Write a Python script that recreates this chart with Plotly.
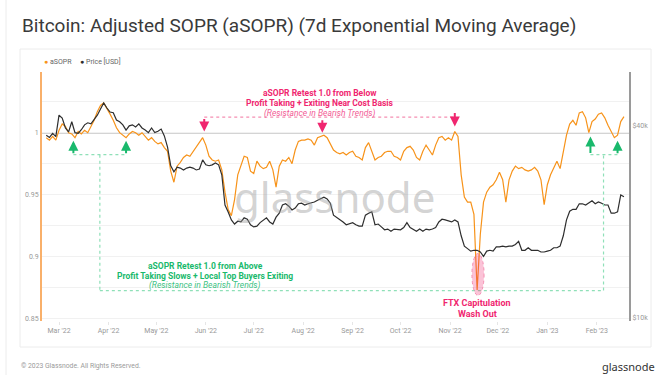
import pandas as pd
import plotly.graph_objects as go

# ---------------- data (2-day sampling) ----------------
start_date = "2022-02-21"

asopr = [
    0.996, 0.994, 0.997, 0.994, 1.002, 1.007, 1.005, 1.000, 0.999, 0.996,
    1.001, 0.999, 1.002, 1.000, 1.005, 1.010, 1.017, 1.022, 1.024, 1.020,
    1.015, 1.010, 1.004, 1.000, 0.998, 0.996, 0.999, 1.001, 1.000, 0.998,
    1.000, 0.997, 0.994, 0.996, 0.993, 0.991, 0.992, 0.988, 0.985, 0.969,
    0.960, 0.973, 0.976, 0.980, 0.982, 0.981, 0.985, 0.988, 0.992, 0.996,
    0.990, 0.981, 0.978, 0.977, 0.978, 0.970, 0.952, 0.938, 0.933, 0.946,
    0.966, 0.974, 0.981, 0.980, 0.969, 0.967, 0.977, 0.973, 0.971, 0.972,
    0.977, 0.970, 0.956, 0.973, 0.978, 0.977, 0.980, 0.975, 0.986, 0.993,
    0.994, 0.994, 0.995, 0.994, 0.990, 0.996, 0.997, 0.998, 0.996, 0.991,
    0.986, 0.984, 0.983, 0.984, 0.982, 0.984, 0.985, 0.981, 0.980, 0.978,
    0.988, 0.992, 0.985, 0.978, 0.980, 0.981, 0.984, 0.985, 0.985, 0.981,
    0.980, 0.978, 0.985, 0.988, 0.989, 0.986, 0.980, 0.978, 0.985, 0.990,
    0.986, 0.982, 0.990, 0.996, 0.997, 0.994, 0.996, 0.994, 1.001, 0.997,
    0.966, 0.948, 0.944, 0.944, 0.934, 0.873, 0.918, 0.944, 0.952, 0.956,
    0.958, 0.962, 0.968, 0.962, 0.944, 0.962, 0.969, 0.973, 0.971, 0.972,
    0.970, 0.969, 0.970, 0.972, 0.969, 0.962, 0.942, 0.958, 0.966, 0.972,
    0.977, 0.971, 0.985, 0.998, 1.007, 1.010, 1.006, 1.016, 1.017, 1.012,
    1.000, 1.009, 1.011, 1.015, 1.016, 1.012, 1.006, 1.001, 0.996, 0.998,
    1.009, 1.013,
]

price_k = [
    37.4, 36.8, 37.9, 37.0, 43.2, 42.3, 39.4, 38.3, 41.2, 38.1,
    37.9, 38.9, 40.3, 40.9, 40.6, 41.8, 43.2, 45.2, 47.2, 45.5,
    44.2, 44.0, 41.7, 41.2, 40.3, 38.8, 40.0, 40.3, 39.7, 40.6,
    39.4, 38.8, 38.1, 39.4, 38.1, 38.5, 39.1, 37.2, 34.3, 30.0,
    28.7, 29.7, 29.5, 29.1, 29.5, 29.7, 29.5, 29.1, 29.3, 31.3,
    30.2, 30.0, 30.2, 30.6, 30.2, 28.1, 22.6, 21.5, 20.3, 19.7,
    20.1, 20.0, 20.6, 20.4, 19.6, 19.3, 19.4, 19.9, 20.3, 20.6,
    20.0, 19.7, 20.7, 21.3, 22.6, 22.8, 22.4, 21.8, 22.1, 22.8,
    22.9, 22.6, 22.8, 22.9, 23.1, 23.4, 23.6, 23.9, 23.6, 22.9,
    21.0, 20.7, 20.3, 20.0, 19.6, 19.7, 19.9, 19.6, 19.4, 19.4,
    21.0, 21.3, 21.5, 19.6, 19.7, 19.3, 18.9, 19.0, 18.7, 19.0,
    18.9, 18.9, 19.2, 19.9, 19.2, 18.9, 18.7, 19.0, 18.7, 19.0,
    18.9, 19.0, 19.2, 20.0, 20.4, 20.3, 20.1, 20.0, 20.3, 20.0,
    18.1, 16.8, 16.5, 16.2, 16.3, 16.3, 16.1, 15.6, 16.2, 16.3,
    16.2, 16.7, 16.7, 16.8, 16.7, 16.8, 16.8, 17.0, 17.4, 16.3,
    16.3, 16.6, 16.3, 16.3, 16.3, 16.1, 16.1, 16.2, 16.3, 16.6,
    16.6, 16.8, 18.1, 20.3, 21.6, 21.9, 21.9, 22.8, 22.8, 22.6,
    22.9, 23.3, 22.8, 23.1, 22.9, 22.6, 22.6, 21.3, 21.3, 21.5,
    24.3, 24.0,
]

left_tick_vals = [0.85, 0.9, 0.95, 1.0]
left_tick_text = ["0.85", "0.9", "0.95", "1"]
right_tick_vals = [10000, 40000]
right_tick_text = ["$10k", "$40k"]

dates = pd.date_range(start_date, periods=len(asopr), freq="2D")
price_usd = [p * 1000 for p in price_k]

ORANGE = "#f7931a"
PINK = "#f0266f"
GREEN = "#19b96c"
GREEN_LIGHT = "#8fe0b8"
FONT = "Roboto"

# plot area in pixels: x 42..629, y 72..321
PL, PW, PB, PH = 42, 587, 321, 249


def px(xp):
    return (xp - PL) / PW


def py(yp):
    return (PB - yp) / PH


fig = go.Figure()
fig.add_trace(go.Scatter(x=dates, y=price_usd, yaxis="y2", mode="lines",
                         line=dict(color="#2e2e2e", width=1.2), name="Price [USD]",
                         showlegend=False, hoverinfo="skip"))
fig.add_trace(go.Scatter(x=dates, y=asopr, mode="lines",
                         line=dict(color=ORANGE, width=1.2), name="aSOPR",
                         showlegend=False, hoverinfo="skip"))

shapes = []
shapes.append(dict(type="line", xref="paper", x0=0, x1=1, yref="y", y0=1, y1=1,
                   line=dict(color="#555555", width=1.3), layer="between"))
shapes.append(dict(type="line", xref="x", yref="y", x0="2022-05-31", x1="2022-11-04",
                   y0=1.0125, y1=1.0125, line=dict(color="#f58fb2", width=1.2, dash="dot")))
g = dict(color=GREEN_LIGHT, width=1.2, dash="dot")
shapes.append(dict(type="line", xref="x", yref="y", x0="2022-03-10", x1="2022-04-12",
                   y0=0.9823, y1=0.9823, line=g))
shapes.append(dict(type="line", xref="x", yref="y", x0="2022-03-26 14:00", x1="2022-03-26 14:00",
                   y0=0.9823, y1=0.8726, line=g))
shapes.append(dict(type="line", xref="x", yref="y", x0="2022-03-26 14:00", x1="2023-02-05 05:00",
                   y0=0.8726, y1=0.8726, line=g))
shapes.append(dict(type="line", xref="x", yref="y", x0="2023-02-05 05:00", x1="2023-02-05 05:00",
                   y0=0.8726, y1=0.9823, line=g))
shapes.append(dict(type="line", xref="x", yref="y", x0="2023-01-28", x1="2023-02-14",
                   y0=0.9823, y1=0.9823, line=g))
shapes.append(dict(type="circle", xref="x", yref="y", x0="2022-11-14 18:00", x1="2022-11-22 08:00",
                   y0=0.8686, y1=0.9025, fillcolor="rgba(240,38,111,0.28)",
                   line=dict(color="#f58fb2", width=1, dash="dot")))
shapes.append(dict(type="rect", xref="paper", yref="paper",
                   x0=px(20), x1=px(651), y0=py(347), y1=py(49),
                   line=dict(color="#ececec", width=1), layer="below"))
shapes.append(dict(type="line", xref="paper", yref="paper",
                   x0=px(6), x1=px(6), y0=py(375), y1=py(0),
                   line=dict(color="#ececec", width=1), layer="below"))

annotations = []
for xd, yv, ay in [("2022-05-31", 1.001, -14), ("2022-08-13", 1.000, -14), ("2022-11-04", 1.005, -15)]:
    annotations.append(dict(x=xd, y=yv, xref="x", yref="y", text="", showarrow=True,
                            arrowhead=2, arrowsize=1, arrowwidth=2, arrowcolor=PINK, ax=0, ay=ay))
for xd, yv, ay in [("2022-03-10", 0.9935, 14), ("2022-04-12", 0.9935, 14),
                   ("2023-01-28", 0.997, 18), ("2023-02-14", 0.9935, 14)]:
    annotations.append(dict(x=xd, y=yv, xref="x", yref="y", text="", showarrow=True,
                            arrowhead=2, arrowsize=1, arrowwidth=2, arrowcolor=GREEN, ax=0, ay=ay))


def label(text, xp, yp, size, color, anchor="center"):
    annotations.append(dict(xref="paper", yref="paper", x=px(xp), y=py(yp), showarrow=False,
                            xanchor=anchor, yanchor="middle", text=text,
                            font=dict(family=FONT, size=size, color=color)))


# red block
label("<b>aSOPR Retest 1.0 from Below</b>", 320, 93, 8.5, PINK)
label("<b>Profit Taking + Exiting Near Cost Basis</b>", 320, 103, 8.5, PINK)
label("<i>(Resistance in Bearish Trends)</i>", 320, 113, 8.5, "#f25a94")
# green block
label("<b>aSOPR Retest 1.0 from Above</b>", 205, 266, 8.5, GREEN)
label("<b>Profit Taking Slows + Local Top Buyers Exiting</b>", 205, 275.5, 8.5, GREEN)
label("<i>(Resistance in Bearish Trends)</i>", 205, 285, 8.5, "#3cc283")
# FTX
label("<b>FTX Capitulation</b>", 477, 303, 9, PINK)
label("<b>Wash Out</b>", 477, 314, 9, PINK)

# watermark
annotations.append(dict(
    xref="paper", yref="paper", x=0.499, y=0.502, showarrow=False, text="glassnode",
    font=dict(family="Noto Sans", size=42, color="rgba(150,150,150,0.42)")))
# legend
label(f"<span style='color:{ORANGE}'>●</span> aSOPR", 42, 62, 7, "#666666", "left")
label("<span style='color:#2e2e2e'>●</span> Price [USD]", 78, 62, 7, "#666666", "left")
# footer
label("© 2023 Glassnode. All Rights Reserved.", 19, 366, 6.8, "#9a9a9a", "left")
annotations.append(dict(
    xref="paper", yref="paper", x=px(657), y=py(366), xanchor="right", yanchor="middle",
    showarrow=False, text="glassnode", font=dict(family="Noto Sans", size=11, color="#333333")))

fig.update_layout(
    width=661, height=375, autosize=False,
    margin=dict(l=42, r=32, t=72, b=54),
    paper_bgcolor="white", plot_bgcolor="white",
    showlegend=False,
    title=dict(text="Bitcoin: Adjusted SOPR (aSOPR) (7d Exponential Moving Average)",
               x=22 / 661, xanchor="left", y=1 - 25 / 375, yanchor="middle",
               font=dict(family=FONT, size=19, color="#3a3a3a")),
    xaxis=dict(type="date", range=["2022-02-18 08:00", "2023-02-21 04:00"],
               tick0="2022-03-01", dtick="M1", tickformat="%b '%y",
               showgrid=False, zeroline=False, showline=False,
               ticks="outside", ticklen=3, tickcolor="#e6e6e6",
               tickfont=dict(family=FONT, size=7, color="#999999")),
    yaxis=dict(range=[0.848, 1.049], tickvals=left_tick_vals, ticktext=left_tick_text,
               showgrid=True, gridcolor="#f1f1f1", gridwidth=1, zeroline=False,
               minor=dict(tickvals=[0.875, 0.925, 0.975, 1.025, 1.049], showgrid=True,
                          gridcolor="#f1f1f1", ticks=""),
               showline=True, linecolor="#f9b06a", linewidth=2,
               tickfont=dict(family=FONT, size=7, color="#999999")),
    yaxis2=dict(overlaying="y", side="right", type="log",
                range=[3.9906, 4.7709], tickvals=right_tick_vals, ticktext=right_tick_text,
                showgrid=False, zeroline=False,
                showline=True, linecolor="#9a9a9a", linewidth=2,
                tickfont=dict(family=FONT, size=7, color="#999999")),
    shapes=shapes,
    annotations=annotations,
)

fig.write_html("out.html", config={"displayModeBar": False},
               post_script="document.body.style.margin='0px';")
